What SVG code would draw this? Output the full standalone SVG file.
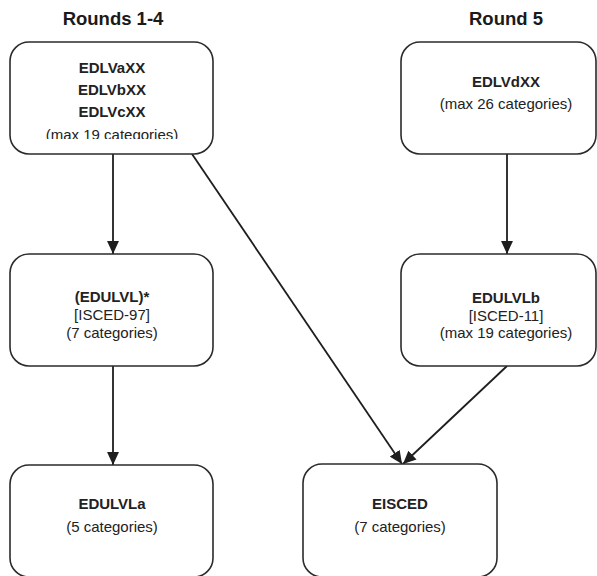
<svg xmlns="http://www.w3.org/2000/svg" width="597" height="576" viewBox="0 0 597 576">
  <style>
    .box { fill: #fff; stroke: #2b2b2b; stroke-width: 1.6; }
    .t { font-family: "Liberation Sans", Arial, sans-serif; font-size: 15px; fill: #222; text-anchor: middle; }
    .b { font-weight: bold; }
    .title { font-family: "Liberation Sans", Arial, sans-serif; font-size: 18.5px; font-weight: bold; fill: #1a1a1a; text-anchor: middle; }
    .edge { stroke: #1e1e1e; stroke-width: 1.8; fill: none; marker-end: url(#arrow); }
  </style>
  <defs>
    <marker id="arrow" viewBox="0 0 12 12" refX="12" refY="6" markerWidth="13" markerHeight="13" markerUnits="userSpaceOnUse" orient="auto">
      <path d="M0,0.5 L12,6 L0,11.5 Z" fill="#1e1e1e"/>
    </marker>
    <!-- the last line of the first box is trimmed at its lower edge -->
    <clipPath id="clipTop">
      <rect x="0" y="40" width="230" height="99"/>
    </clipPath>
  </defs>
  <rect width="597" height="576" fill="#fff"/>

  <text class="title" x="113" y="25">Rounds 1-4</text>
  <text class="title" x="506" y="25">Round 5</text>

  <g id="connectors">
    <line class="edge" x1="113" y1="154" x2="113" y2="254"/>
    <line class="edge" x1="507" y1="154" x2="507" y2="254"/>
    <line class="edge" x1="113" y1="366" x2="113" y2="465"/>
    <line class="edge" x1="192" y1="154" x2="402" y2="464"/>
    <line class="edge" x1="507" y1="366" x2="403" y2="464"/>
  </g>

  <g id="edlv-abc">
    <rect class="box" x="10" y="42" width="203" height="112" rx="19"/>
    <text class="t b" x="112" y="73">EDLVaXX</text>
    <text class="t b" x="112" y="95">EDLVbXX</text>
    <text class="t b" x="112" y="117">EDLVcXX</text>
    <text class="t" x="112" y="140" clip-path="url(#clipTop)">(max 19 categories)</text>
  </g>

  <g id="edlv-d">
    <rect class="box" x="401" y="42" width="195" height="112" rx="19"/>
    <text class="t b" x="506" y="87">EDLVdXX</text>
    <text class="t" x="506" y="109">(max 26 categories)</text>
  </g>

  <g id="edulvl">
    <rect class="box" x="10" y="254" width="203" height="112" rx="19"/>
    <text class="t b" x="112" y="302">(EDULVL)*</text>
    <text class="t" x="112" y="320">[ISCED-97]</text>
    <text class="t" x="112" y="338">(7 categories)</text>
  </g>

  <g id="edulvlb">
    <rect class="box" x="401" y="254" width="195" height="112" rx="19"/>
    <text class="t b" x="506" y="303">EDULVLb</text>
    <text class="t" x="506" y="321">[ISCED-11]</text>
    <text class="t" x="506" y="338">(max 19 categories)</text>
  </g>

  <g id="edulvla">
    <rect class="box" x="10" y="465" width="203" height="112" rx="19"/>
    <text class="t b" x="112" y="509">EDULVLa</text>
    <text class="t" x="112" y="532">(5 categories)</text>
  </g>

  <g id="eisced">
    <rect class="box" x="303" y="464" width="194" height="113" rx="19"/>
    <text class="t b" x="400" y="509">EISCED</text>
    <text class="t" x="400" y="532">(7 categories)</text>
  </g>
</svg>
